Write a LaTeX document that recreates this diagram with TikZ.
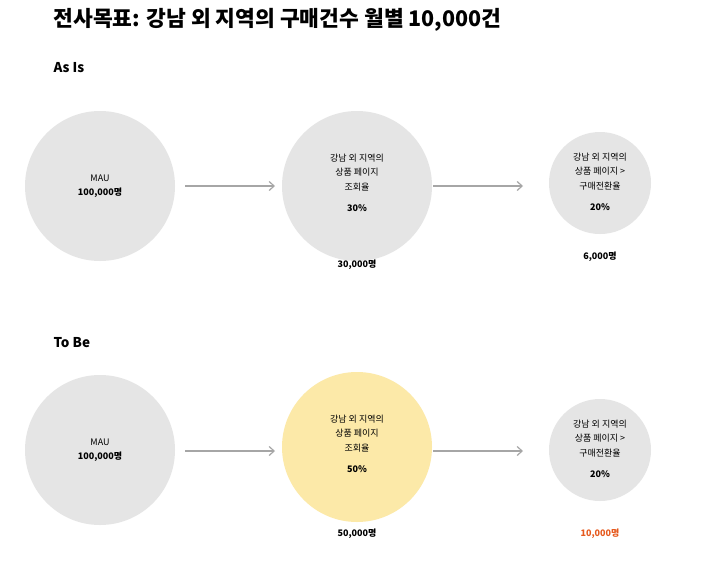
\documentclass[tikz,border=0pt]{standalone}
\usepackage{fontspec}
\setmainfont{Noto Sans CJK KR}
\begin{document}
\begin{tikzpicture}[x=1pt,y=-1pt,
  circ/.style={circle,fill=black!10,inner sep=0pt},
  lbl/.style={align=center,font=\fontsize{9}{14.5}\selectfont},
  arr/.style={draw=black!35,line width=1.2pt,->,>={Straight Barb[length=5pt,width=9pt]}},
  head/.style={anchor=west,font=\fontsize{13.5}{15}\selectfont\bfseries},
  num/.style={font=\fontsize{9}{10}\selectfont\bfseries}]
\usetikzlibrary{arrows.meta}
\useasboundingbox[fill=white] (0,0) rectangle (720,565);
\definecolor{yel}{RGB}{252,233,168}
\node[anchor=west,font=\fontsize{21.5}{24}\selectfont\bfseries] (title) at (50,20) {전사목표: 강남 외 지역의 구매건수 월별 10,000건};
\node[head] (asis) at (50,68) {As Is};
\node[circ,minimum size=150] (a1) at (100,186) {};
\node[lbl] (a1t) at (a1) {MAU\\\textbf{100,000명}};
\node[circ,minimum size=150] (a2) at (357,186) {};
\node[lbl] (a2t) at (357,183) {강남 외 지역의\\상품 페이지\\조회율\\[7pt]\textbf{30\%}};
\node[circ,minimum size=102] (a3) at (600,183) {};
\node[lbl] (a3t) at (600,182) {강남 외 지역의\\상품 페이지 >\\구매전환율\\[7pt]\textbf{20\%}};
\node[num] (a2n) at (357,265) {30,000명};
\node[num] (a3n) at (600,257) {6,000명};
\draw[arr] (185,186) -- (275,186);
\draw[arr] (433,186) -- (523,186);
\node[head] (tobe) at (50,343) {To Be};
\node[circ,minimum size=150] (b1) at (100,450) {};
\node[lbl] (b1t) at (b1) {MAU\\\textbf{100,000명}};
\node[circ,minimum size=150,fill=yel] (b2) at (357,447) {};
\node[lbl] (b2t) at (357,444) {강남 외 지역의\\상품 페이지\\조회율\\[7pt]\textbf{50\%}};
\node[circ,minimum size=102] (b3) at (600,450) {};
\node[lbl] (b3t) at (600,449) {강남 외 지역의\\상품 페이지 >\\구매전환율\\[7pt]\textbf{20\%}};
\node[num] (b2n) at (357,534) {50,000명};
\node[num,text={rgb,255:red,230;green,90;blue,30}] (b3n) at (600,534) {10,000명};
\draw[arr] (185,451) -- (275,451);
\draw[arr] (433,451) -- (523,451);
\end{tikzpicture}
\end{document}
